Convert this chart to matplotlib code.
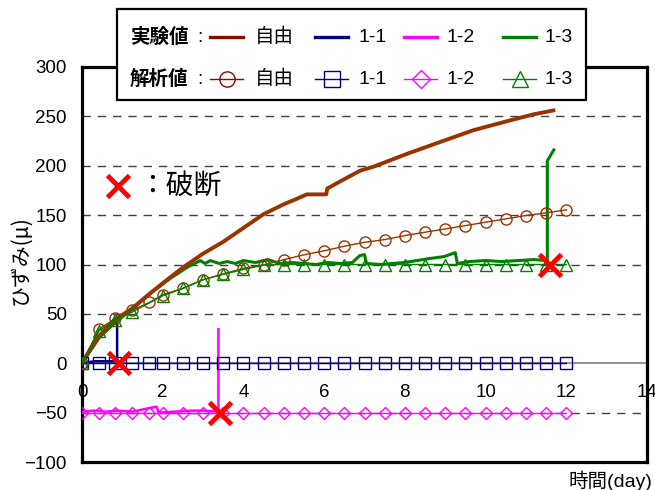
import matplotlib
matplotlib.use("Agg")
import matplotlib.pyplot as plt
from matplotlib.lines import Line2D
from matplotlib.patches import Rectangle

plt.rcParams['font.family'] = ['Liberation Sans', 'Noto Sans CJK JP', 'DejaVu Sans']

# ---- measured strain (experiment) ----
t_free = [0, 0.2, 0.43, 0.84, 1.23, 1.6, 2.03, 2.5, 3.0, 3.5, 4.0, 4.5, 5.0, 5.32,
          5.57, 6.05, 6.08, 6.39, 6.89, 7.22, 8.05, 8.87, 9.7, 10.52, 11.18, 11.68]
e_free = [0, 14, 28, 45, 55, 68, 82, 97, 111, 123, 137, 151, 161, 166.5,
          171, 171, 177, 184, 195, 199, 212, 224, 236, 245, 252, 256]

t_11 = [0, 0.3, 0.6, 0.87, 0.87]
e_11 = [0, 2, 2, 2, 40]

t_12 = [0, 0.3, 0.6, 0.9, 1.25, 1.6, 1.85, 1.9, 2.3, 2.7, 3.0, 3.38, 3.38]
e_12 = [-49, -48, -49, -48, -49, -46, -44, -50, -49, -48, -48, -49, 34.5]

t_13 = [0, 0.43, 0.84, 1.19, 1.77, 2.19, 2.6, 2.93, 3.05, 3.18, 3.4, 3.6, 3.8, 4.0,
        4.3, 4.6, 4.9, 5.2, 5.5, 5.8, 6.1, 6.4, 6.7, 6.88, 7.0, 7.05, 7.4, 7.7,
        7.98, 8.3, 8.6, 8.97, 9.25, 9.3, 9.6, 10.0, 10.4, 10.8, 11.2, 11.5,
        11.53, 11.53, 11.69]
e_13 = [0, 26, 42, 53, 73, 86, 97, 104, 101, 104, 101, 103, 101, 104,
        102, 105, 101, 102, 101, 100, 102, 101, 102, 109, 110, 101, 100, 101,
        102, 104, 106, 108, 112, 101, 103, 104, 103, 104, 105, 104,
        104, 205, 216]

# ---- analysed strain ----
t_calc = [0, 0.42, 0.83, 1.25, 1.67, 2.0, 2.5, 3.0, 3.5, 4.0, 4.5, 5.0, 5.5, 6.0,
          6.5, 7.0, 7.5, 8.0, 8.5, 9.0, 9.5, 10.0, 10.5, 11.0, 11.5, 12.0]
c_free = [0, 34.5, 45.4, 53.8, 61.6, 69.4, 75.8, 84.6, 90.4, 96.1, 99.5, 104.9,
          109.8, 113.9, 118.5, 122.5, 125.2, 129.3, 132.7, 136, 139.4, 142.8,
          146.2, 149.6, 152.3, 155.3]
c_11 = [0] * len(t_calc)
c_12 = [-50] * len(t_calc)
t_calc13 = [0, 0.42, 0.83, 1.25, 2.0, 2.5, 3.0, 3.5, 4.0, 4.5, 5.0, 5.5, 6.0,
            6.5, 7.0, 7.5, 8.0, 8.5, 9.0, 9.5, 10.0, 10.5, 11.0, 11.5, 12.0]
c_13 = [0, 32.8, 44, 52, 68.3, 75.8, 84.6, 90, 95, 99.5, 100, 100, 100,
        100, 100, 100, 100, 100, 100, 100, 100, 100, 100, 100, 100]

# ---- fracture points ----
t_break = [0.92, 3.42, 11.6]
e_break = [0, -50, 100]

x_ticks = [0, 2, 4, 6, 8, 10, 12, 14]
y_ticks = [-100, -50, 0, 50, 100, 150, 200, 250, 300]

C_FREE = '#993300'
C_FREE_KEY = '#8B0A00'
C_11 = '#000080'
C_12 = '#FF00FF'
C_13 = '#008000'

fig = plt.figure(figsize=(6.55, 4.9), dpi=100)
ax = fig.add_axes([82 / 655, 1 - 462 / 490, 565 / 655, 395 / 490])
ax.set_xlim(0, 14)
ax.set_ylim(-100, 300)

# grid and zero line
for y in y_ticks:
    if y in (-100, 300):
        continue
    if y == 0:
        ax.axhline(0, color='#808080', lw=1.2, zorder=1)
    else:
        ax.axhline(y, color='#404040', lw=1.0, dashes=(6, 5), zorder=1)

# experiment lines
ax.plot(t_13, e_13, color=C_13, lw=2.2, zorder=3)
ax.plot(t_free, e_free, color=C_FREE, lw=2.8, zorder=4)
ax.plot(t_11, e_11, color=C_11, lw=1.8, zorder=3)
ax.plot(t_12, e_12, color=C_12, lw=1.8, zorder=3)

# analysis lines
ms = 8
ax.plot(t_calc, c_11, color=C_11, lw=1.0, marker='s', ms=ms, mfc='none', mew=1.0, zorder=5)
ax.plot(t_calc, c_12, color=C_12, lw=1.0, marker='D', ms=ms * 0.8, mfc='none', mew=1.0, zorder=5)
ax.plot(t_calc, c_free, color=C_FREE, lw=1.0, marker='o', ms=ms, mfc='none', mew=1.0, zorder=5)
ax.plot(t_calc13, c_13, color=C_13, lw=1.0, marker='^', ms=ms, mfc='none', mew=1.0, zorder=6)

# fracture marks
ax.plot(t_break, e_break, ls='none', marker='x', ms=16, mew=3.5, color='#FF0000', zorder=8)

for s in ax.spines.values():
    s.set_linewidth(2.3)
    s.set_color('black')

ax.set_yticks(y_ticks)
ax.tick_params(axis='y', length=0, pad=11, labelsize=13.5)
ax.set_xticks(x_ticks)
ax.tick_params(axis='x', length=0, labelbottom=False)

sec = ax.secondary_xaxis(0.25)
sec.set_xticks(x_ticks)
sec.tick_params(length=0, pad=15, labelsize=13.5)
sec.spines['bottom'].set_visible(False)

fig.text(20 / 655, 1 - 260 / 490, 'ひずみ(μ)', rotation=90, ha='center', va='center',
         fontsize=15, family=['Noto Sans CJK JP', 'DejaVu Sans'])
fig.text(652 / 655, 1 - 481 / 490, '時間(day)', ha='right', va='center', fontsize=14)

# overlay in pixel coordinates for the key box
ov = fig.add_axes([0, 0, 1, 1], zorder=10)
ov.set_xlim(0, 655)
ov.set_ylim(490, 0)
ov.axis('off')
ov.patch.set_alpha(0)

ov.add_patch(Rectangle((117, 9), 469, 91, facecolor='white', edgecolor='black', lw=1.6))

rows = [(37, '実験値', None), (79, '解析値', 'm')]
keys = [
    (210, 255, C_FREE_KEY, '自由', 'o'),
    (315, 358, C_11, '1-1', 's'),
    (404, 447, C_12, '1-2', 'D'),
    (503, 545, C_13, '1-3', '^'),
]
for y, label, mk in rows:
    ov.text(130, y, label, fontsize=14, fontweight='bold', va='center', ha='left')
    ov.text(197, y, ':', fontsize=14, va='center', ha='left')
    for x0, xt, col, name, marker in keys:
        ov.add_line(Line2D([x0, x0 + 33], [y, y], color=col,
                           lw=2.4 if mk is None else 1.0))
        if mk is not None:
            ov.add_line(Line2D([x0 + 16.5], [y], color=col, marker=marker,
                               ms=11 if marker != 'D' else 9, mfc='none', mew=1.0))
        ov.text(xt, y, name, fontsize=14, va='center', ha='left')

ov.add_line(Line2D([118], [186], ls='none', marker='x', ms=16, mew=3.5, color='#FF0000'))
ov.text(138, 186, '：破断', fontsize=20, va='center', ha='left',
        family=['Noto Sans CJK JP', 'DejaVu Sans'])

fig.savefig('out.png', dpi=100)
